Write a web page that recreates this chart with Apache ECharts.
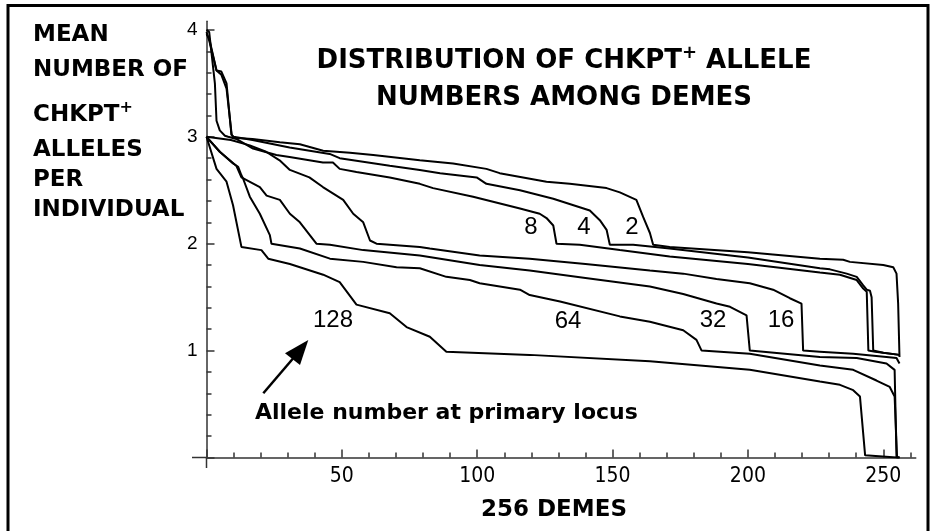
<!DOCTYPE html>
<html>
<head>
<meta charset="utf-8">
<script src="https://cdn.jsdelivr.net/npm/echarts@6/dist/echarts.min.js"></script>
<style>
html,body{margin:0;padding:0;background:#fff}
#chart{width:932px;height:531px}
</style>
</head>
<body>
<div id="chart"></div>
<script>
// sorted mean CHKPT+ allele count per deme, one curve per allele number at primary locus
// points are [deme rank, mean alleles]
var curve2=[[0,3.96],[1,3.92],[3.7,3.62],[5.5,3.58],[7.4,3.45],[9.3,3.02],[10,2.99],[17,2.98],[27.1,2.95],[34.5,2.93],[43.1,2.87],[53,2.85],[61.6,2.83],[78.8,2.78],[91.1,2.75],[103.4,2.70],[108.3,2.66],[125.6,2.58],[134.2,2.56],[147.8,2.52],[152.7,2.48],[158.8,2.41],[161.3,2.25],[163.8,2.10],[165,1.99],[171.1,1.97],[200,1.92],[226.6,1.86],[235.2,1.85],[237.7,1.83],[250,1.80],[253.7,1.78],[254.9,1.72],[255.5,1.44],[256,0.94]]
var curve4=[[0,3.98],[1,3.9],[3.7,3.62],[5.5,3.61],[7.4,3.5],[9.2,3.02],[10,3.0],[17,2.97],[30.7,2.90],[45.5,2.84],[49.2,2.80],[67.7,2.73],[78.8,2.69],[86.3,2.66],[99.8,2.62],[103.4,2.56],[115.8,2.50],[128.1,2.42],[141.6,2.31],[145.3,2.22],[147.8,2.13],[149,1.99],[157.6,1.99],[171.1,1.955],[200,1.87],[226.6,1.77],[230.3,1.76],[236.5,1.72],[240.2,1.69],[242.6,1.61],[243.9,1.57],[245.1,1.56],[245.7,1.50],[246.3,1.0],[250,0.98],[256,0.96]]
var curve8=[[0,4.0],[1,3.98],[3.1,3.5],[3.7,3.15],[4.9,3.06],[6.8,3.01],[8,3.0],[11,2.98],[17.2,2.89],[25.8,2.83],[30.7,2.81],[43,2.76],[46.7,2.76],[49.2,2.70],[55.4,2.67],[67.7,2.62],[78.8,2.56],[83.7,2.52],[98.5,2.44],[115.8,2.33],[123.1,2.28],[125.6,2.24],[128.1,2.17],[129.3,2.0],[137.9,1.99],[152.7,1.94],[171.1,1.88],[200,1.81],[226.6,1.73],[234,1.71],[240.2,1.66],[242.6,1.58],[243.9,1.55],[244.5,1.0],[247,0.99],[256,0.96]]
var curve16=[[0,3.0],[9,2.97],[16,2.92],[22,2.86],[27,2.78],[30.8,2.69],[38,2.62],[43,2.53],[50.5,2.41],[54.2,2.28],[57.9,2.20],[60.4,2.03],[62.8,2.0],[78.8,1.97],[82.5,1.955],[100.9,1.89],[119.4,1.86],[140,1.81],[163.8,1.75],[176.1,1.72],[188.4,1.67],[200.7,1.63],[209.3,1.57],[215.5,1.49],[219.8,1.44],[220.4,1.0],[226.6,0.99],[238.9,0.97],[251.2,0.94],[254.9,0.93],[256,0.88]]
var curve32=[[0,3.0],[4.9,2.86],[11,2.73],[12.9,2.62],[19.7,2.53],[22.2,2.45],[27.1,2.41],[30.8,2.28],[34.5,2.2],[40.6,2.0],[45.6,1.99],[57.9,1.94],[78.8,1.89],[100.9,1.80],[119.4,1.75],[140,1.68],[163.8,1.60],[176.1,1.53],[188.4,1.44],[193.4,1.41],[199.5,1.33],[200.7,1.0],[226.6,0.94],[240.2,0.93],[251.2,0.88],[254.2,0.82],[254.9,0],[256,0]]
var curve64=[[0,3.0],[4.9,2.86],[9.8,2.75],[11.7,2.72],[12.9,2.64],[13.5,2.61],[16,2.44],[19.7,2.28],[23.4,2.08],[24,2.0],[34.5,1.955],[45.6,1.86],[57.9,1.83],[70.2,1.78],[78.8,1.77],[88.6,1.69],[97.3,1.66],[100.9,1.63],[115.8,1.57],[119.4,1.52],[130.6,1.46],[152.7,1.32],[163.8,1.27],[176.1,1.19],[181,1.10],[182.9,1.0],[200.7,0.97],[226.6,0.86],[238.9,0.82],[247.5,0.72],[252.4,0.66],[254.2,0.57],[255.1,0],[256,0]]
var curve128=[[0,3.0],[3.7,2.70],[7.4,2.58],[9.8,2.36],[12.9,1.97],[20.3,1.94],[22.8,1.86],[30.8,1.81],[43.1,1.71],[49.2,1.64],[55.4,1.43],[67.7,1.35],[73.9,1.22],[82.5,1.13],[88.6,0.99],[119.4,0.96],[163.8,0.90],[200.7,0.82],[226.6,0.71],[234,0.68],[238.9,0.63],[241.4,0.57],[243.3,0.02],[254.9,0],[256,0]]

var curveNames=['2','4','8','16','32','64','128']
var curves=[curve2,curve4,curve8,curve16,curve32,curve64,curve128]

// axis extents and tick steps
var xEnd=262, yEnd=4.08
var xMinorStep=10, xMinorEnd=260, xMajorStep=50, xMajorEnd=250
var yMinorStep=0.2, yMajorStep=1, yTickEnd=4

// pixel placement of the plot: origin and size of one unit
var x0=206.5, sx=2.707, y0=457.5, sy=106.9
function gridFor(xmax,ymax){
  return {left:x0,right:932-(x0+xmax*sx),top:y0-ymax*sy,bottom:531-y0,containLabel:false}
}

var chart=echarts.init(document.getElementById('chart'))

var axisColor='#333'
var boldFont='"DejaVu Sans", sans-serif'
var plainFont='"Liberation Sans", Arial, sans-serif'

var series=curves.map(function(c,i){
  return {
    name:curveNames[i],
    type:'line',
    xAxisIndex:0,yAxisIndex:0,
    data:c,
    showSymbol:false,
    symbol:'none',
    lineStyle:{color:'#000',width:2},
    silent:true
  }
})

function txt(t,x,y,font,align){
  return {type:'text',silent:true,style:{text:t,x:x,y:y,font:font,fill:'#000',
    textAlign:align||'left',align:align||'left',textVerticalAlign:'middle',verticalAlign:'middle'}}
}

function supText(main,after,x,y,size,align){
  return {type:'text',silent:true,style:{
    text:'{a|'+main+'}{s|+}'+(after?'{a|'+after+'}':''),
    x:x,y:y,fill:'#000',textAlign:align,align:align,textVerticalAlign:'middle',verticalAlign:'middle',
    rich:{
      a:{fontFamily:boldFont,fontWeight:'bold',fontSize:size,lineHeight:size+6},
      s:{fontFamily:boldFont,fontWeight:'bold',fontSize:Math.round(size*0.7),lineHeight:size+6,padding:[0,0,size*0.6,0]}
    }}}
}

var graphics=[
  {type:'rect',silent:true,shape:{x:8,y:5.5,width:920,height:540},style:{fill:'none',stroke:'#000',lineWidth:3}},
  // short axis overhangs past the origin
  {type:'line',silent:true,shape:{x1:192,y1:y0,x2:x0,y2:y0},style:{stroke:axisColor,lineWidth:1.5}},
  {type:'line',silent:true,shape:{x1:x0,y1:y0,x2:x0,y2:468},style:{stroke:axisColor,lineWidth:1.5}},
  // left axis title
  txt('MEAN',33,35,'bold 23px '+boldFont),
  txt('NUMBER OF',33,70,'bold 23px '+boldFont),
  supText('CHKPT','',33,115,23,'left'),
  txt('ALLELES',33,150,'bold 23px '+boldFont),
  txt('PER',33,180,'bold 23px '+boldFont),
  txt('INDIVIDUAL',33,210,'bold 23px '+boldFont),
  // chart title
  supText('DISTRIBUTION OF CHKPT',' ALLELE',564,61,26,'center'),
  txt('NUMBERS AMONG DEMES',564,98,'bold 26px '+boldFont,'center'),
  // curve labels
  txt('8',531,227,'24px '+plainFont,'center'),
  txt('4',584,227,'24px '+plainFont,'center'),
  txt('2',632,227,'24px '+plainFont,'center'),
  txt('128',333,320,'24px '+plainFont,'center'),
  txt('64',568,321,'24px '+plainFont,'center'),
  txt('32',713,320,'24px '+plainFont,'center'),
  txt('16',781,320,'24px '+plainFont,'center'),
  // annotation arrow
  {type:'line',silent:true,shape:{x1:263.3,y1:393.3,x2:293,y2:358.5},style:{stroke:'#000',lineWidth:2.5}},
  {type:'polygon',silent:true,shape:{points:[[308.3,340],[285,353.3],[300,365]]},style:{fill:'#000'}},
  txt('Allele number at primary locus',255,413,'bold 22px '+boldFont),
  txt('256 DEMES',554,510,'bold 23px '+boldFont,'center')
]

function axisOf(extra){
  var a={type:'value',min:0,splitLine:{show:false},axisLine:{show:false},axisTick:{show:false},axisLabel:{show:false}}
  for(var k in extra) a[k]=extra[k]
  return a
}

var tickStyle={color:axisColor,width:1.5}

var option={
  animation:false,
  backgroundColor:'#fff',
  grid:[gridFor(xEnd,yEnd),gridFor(xMinorEnd,yTickEnd),gridFor(xMajorEnd,yTickEnd)],
  xAxis:[
    // axis line of the plot
    axisOf({gridIndex:0,max:xEnd,axisLine:{show:true,onZero:false,lineStyle:{color:axisColor,width:1.5}}}),
    // minor ticks every 10 demes
    axisOf({gridIndex:1,max:xMinorEnd,interval:xMinorStep,
      axisTick:{show:true,inside:true,length:5,lineStyle:tickStyle}}),
    // major ticks and labels every 50
    axisOf({gridIndex:2,max:xMajorEnd,interval:xMajorStep,
      axisTick:{show:true,inside:true,length:8,lineStyle:tickStyle},
      axisLabel:{show:true,margin:9,color:'#000',fontSize:21,
        fontFamily:'"DejaVu Sans Condensed","DejaVu Sans",sans-serif',
        formatter:function(v){return v===0?'':String(v)}}})
  ],
  yAxis:[
    axisOf({gridIndex:0,max:yEnd,axisLine:{show:true,onZero:false,lineStyle:{color:axisColor,width:1.5}}}),
    axisOf({gridIndex:1,max:yTickEnd,interval:yMinorStep,
      axisTick:{show:true,inside:true,length:5,lineStyle:tickStyle}}),
    axisOf({gridIndex:2,max:yTickEnd,interval:yMajorStep,
      axisTick:{show:true,inside:true,length:8,lineStyle:tickStyle},
      axisLabel:{show:true,margin:9,color:'#000',fontSize:19,fontFamily:plainFont,
        formatter:function(v){return v===0?'':String(v)}}})
  ],
  series:series,
  graphic:graphics
}

chart.setOption(option)
</script>
</body>
</html>
